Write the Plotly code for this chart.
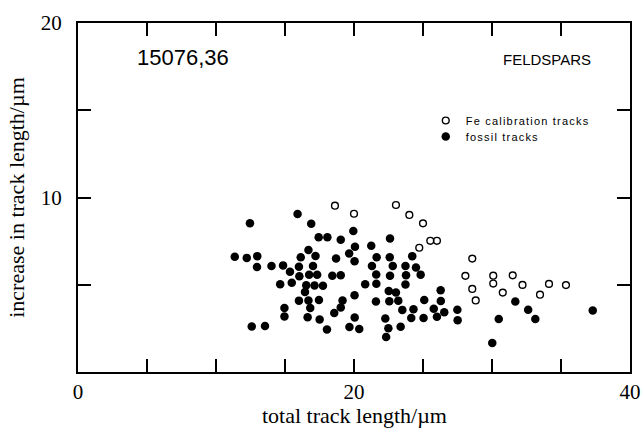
import plotly.graph_objects as go

# Fe calibration tracks (open circles)
calib_x = [18.62, 20.00, 23.04, 24.01, 25.00, 25.53, 26.01, 24.73, 28.57, 28.07,
           30.09, 31.50, 30.09, 28.57, 32.21, 34.13, 35.36, 30.78, 28.82, 33.48]
calib_y = [9.53, 9.07, 9.57, 9.00, 8.52, 7.52, 7.52, 7.12, 6.50, 5.51,
           5.52, 5.54, 5.07, 4.76, 4.99, 5.05, 4.98, 4.55, 4.10, 4.43]

# fossil tracks (filled circles)
fossil_x = [12.46, 15.91, 16.90, 17.44, 18.07, 19.04, 19.95, 22.61, 20.07, 21.25,
            16.70, 17.21, 16.14, 11.36, 12.23, 12.99, 18.70, 19.65, 20.04, 21.64,
            22.59, 24.22, 12.97, 14.02, 14.86, 16.01, 17.03, 21.30, 22.81, 23.73,
            24.49, 15.36, 16.04, 16.75, 17.33, 18.43, 19.04, 21.61, 22.61, 23.77,
            24.83, 14.65, 15.49, 16.54, 17.14, 17.75, 20.81, 21.62, 23.73, 16.45,
            22.52, 23.04, 26.28, 20.04, 16.01, 16.70, 17.46, 19.17, 21.59, 22.56,
            23.21, 25.09, 26.29, 31.69, 14.96, 16.83, 19.04, 23.50, 24.31, 25.78,
            27.49, 32.62, 37.30, 18.57, 26.54, 14.96, 16.64, 17.51, 20.05, 22.27,
            24.15, 25.04, 26.01, 27.51, 30.49, 33.14, 12.59, 13.55, 18.04, 19.67,
            20.38, 22.49, 23.38, 22.33, 30.02]
fossil_y = [8.52, 9.05, 8.49, 7.72, 7.72, 7.58, 8.08, 7.65, 7.18, 7.23,
            6.99, 6.65, 6.58, 6.60, 6.54, 6.64, 6.51, 6.79, 6.35, 6.57,
            6.57, 6.64, 6.02, 6.08, 6.11, 6.03, 6.07, 6.08, 6.07, 6.07,
            5.99, 5.75, 5.49, 5.57, 5.57, 5.51, 5.55, 5.59, 5.51, 5.54,
            5.58, 5.03, 5.11, 4.97, 4.96, 4.94, 5.03, 5.06, 5.02, 4.59,
            4.64, 4.56, 4.69, 4.40, 4.09, 4.10, 4.13, 4.10, 4.04, 4.05,
            4.09, 4.12, 4.07, 4.04, 3.67, 3.67, 3.70, 3.56, 3.59, 3.63,
            3.57, 3.57, 3.53, 3.38, 3.43, 3.18, 3.14, 3.01, 3.12, 3.07,
            3.10, 3.10, 3.16, 2.97, 3.04, 3.04, 2.61, 2.64, 2.43, 2.58,
            2.46, 2.51, 2.59, 2.01, 1.66]

x_tickvals = [0, 5, 10, 15, 20, 25, 30, 35, 40]
x_ticktext = ["0", "", "", "", "20", "", "", "", "40"]
y_tickvals = [0, 5, 10, 15, 20]
y_ticktext = ["", "", "10", "", "20"]

x_title = "total track length/µm"
y_title = "increase in track length/µm"

serif = "Liberation Serif, Times New Roman, serif"
sans = "Liberation Sans, Arial, sans-serif"

fig = go.Figure()
fig.add_trace(go.Scatter(
    x=calib_x, y=calib_y, mode="markers", legend="legend",
    name='<span style="letter-spacing:1.2px">Fe calibration tracks</span>',
    marker=dict(symbol="circle-open", size=6.8, color="black", line=dict(width=1.4, color="black")),
))
fig.add_trace(go.Scatter(
    x=fossil_x, y=fossil_y, mode="markers", legend="legend2",
    name='<span style="letter-spacing:1.2px">fossil tracks</span>',
    marker=dict(symbol="circle", size=8.5, color="black", line=dict(width=0)),
))

axis_common = dict(
    showline=True, linecolor="black", linewidth=2, mirror="ticks",
    ticks="inside", ticklen=13, tickwidth=1.5, tickcolor="black",
    showgrid=False, zeroline=False, automargin=False,
    tickfont=dict(family=serif, size=21, color="black"),
)

legend_common = dict(
    xanchor="left", yanchor="top",
    bgcolor="rgba(0,0,0,0)", borderwidth=0,
    font=dict(family=sans, size=11, color="black"),
)

H = 349.0  # plot-area height in px (429 - 23 - 57)
W = 552.0  # plot-area width in px (641 - 78 - 11)
BOTTOM = 372.0  # plot-area bottom edge in px from top

fig.update_layout(
    width=641, height=429,
    margin=dict(l=78, r=11, t=23, b=57),
    paper_bgcolor="white", plot_bgcolor="white",
    showlegend=True,
    legend=dict(x=0.630, y=(BOTTOM - 106) / H, **legend_common),
    legend2=dict(x=0.630, y=(BOTTOM - 122) / H, **legend_common),
    xaxis=dict(
        range=[0, 40], tickmode="array", tickvals=x_tickvals, ticktext=x_ticktext,
        **axis_common,
    ),
    yaxis=dict(
        range=[0, 20], tickmode="array", tickvals=y_tickvals, ticktext=y_ticktext,
        title=dict(text=y_title, font=dict(family=serif, size=22, color="black"), standoff=10),
        ticklabelstandoff=10,
        **axis_common,
    ),
    annotations=[
        dict(text=x_title, xref="paper", yref="paper", x=0.5, y=(BOTTOM - 415) / H,
             xanchor="center", yanchor="middle", showarrow=False,
             font=dict(family=serif, size=22, color="black")),
        dict(text="15076,36", xref="paper", yref="paper", x=(183 - 78) / W, y=(BOTTOM - 57) / H,
             xanchor="center", yanchor="middle", showarrow=False,
             font=dict(family=sans, size=22, color="black")),
        dict(text="FELDSPARS", xref="paper", yref="paper", x=(547 - 78) / W, y=(BOTTOM - 59) / H,
             xanchor="center", yanchor="middle", showarrow=False,
             font=dict(family=sans, size=15, color="black")),
    ],
)

# remove the browser's default 8px page margin so the figure sits at the window's corner
fig.write_html(
    "out.html",
    config={"displayModeBar": False},
    post_script="document.body.style.margin='0px';document.body.style.padding='0px';",
)
